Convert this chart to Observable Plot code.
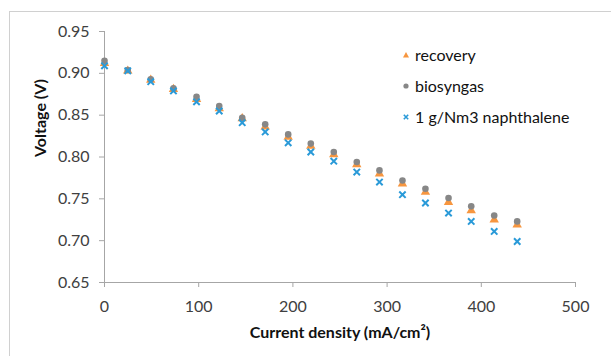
<!DOCTYPE html>
<html>
<head>
<meta charset="utf-8">
<script src="https://cdn.jsdelivr.net/npm/d3@7"></script>
<script src="https://cdn.jsdelivr.net/npm/@observablehq/plot@0.6"></script>
<style>
  html, body { margin: 0; padding: 0; background: #fff; overflow: hidden; }
  #wrap { position: relative; width: 611px; height: 356px; font-family: Lato, "Open Sans", sans-serif; }
  #frame { position: absolute; left: 9px; top: 11px; width: 700px; height: 400px;
           border-left: 1px solid #d0d0d0; border-top: 1px solid #d0d0d0; pointer-events: none; }
  #chart { position: absolute; left: 0; top: 0; }
  #legend { position: absolute; left: 399px; top: 39px; font-size: 16px; color: #111; }
  .row { display: flex; align-items: center; height: 31px; }
  .row svg { width: 14px; height: 12px; margin-right: 2px; }
</style>
</head>
<body>
<div id="wrap">
  <div id="chart"></div>
  <div id="frame"></div>
  <div id="legend"></div>
</div>
<script>
// Data
const currentDensity = [0, 24.7, 49.1, 73.2, 97.7, 121.8, 146.2, 170.6, 195.0, 219.0, 243.4, 267.8, 291.9, 316.3, 340.7, 365.2, 389.3, 413.7, 438.1];
const recovery   = [0.912, 0.903, 0.892, 0.881, 0.869, 0.858, 0.846, 0.836, 0.824, 0.813, 0.803, 0.791, 0.780, 0.768, 0.758, 0.746, 0.736, 0.725, 0.719];
const biosyngas  = [0.915, 0.904, 0.893, 0.882, 0.872, 0.861, 0.847, 0.839, 0.827, 0.816, 0.806, 0.794, 0.784, 0.772, 0.762, 0.751, 0.741, 0.730, 0.723];
const naphthalene= [0.909, 0.903, 0.890, 0.879, 0.866, 0.855, 0.841, 0.830, 0.817, 0.806, 0.795, 0.782, 0.770, 0.755, 0.745, 0.733, 0.723, 0.711, 0.699];

const seriesNames = ["recovery", "biosyngas", "1 g/Nm3 naphthalene"];
const seriesColors = ["#f7963f", "#878787", "#2a9ad8"];
const xTicks = [0, 100, 200, 300, 400, 500];
const yTicks = [0.65, 0.70, 0.75, 0.80, 0.85, 0.90, 0.95];
const xLabel = "Current density (mA/cm²)";
const yLabel = "Voltage (V)";

const mk = (vals) => currentDensity.map((x, i) => ({x, v: vals[i]}));
const axisGray = "#a6a6a6";
const textGray = "#404040";

const chart = Plot.plot({
  width: 611,
  height: 356,
  marginLeft: 104,
  marginRight: 36,
  marginTop: 31,
  marginBottom: 74,
  style: { fontFamily: "Lato, 'Open Sans', sans-serif", fontSize: "16px", background: "transparent", overflow: "visible" },
  x: { domain: [0, 500] },
  y: { domain: [0.65, 0.95] },
  marks: [
    Plot.axisX({ ticks: xTicks, tickSize: 5, tickPadding: 13, stroke: axisGray, fill: textGray, label: null, tickFormat: d3.format("d") }),
    Plot.axisY({ ticks: yTicks, tickSize: 5, tickPadding: 10, stroke: axisGray, fill: textGray, label: null, tickFormat: d3.format(".2f") }),
    Plot.ruleY([0.65], { stroke: axisGray }),
    Plot.ruleX([0], { stroke: axisGray }),
    Plot.dot(mk(recovery), { x: "x", y: "v", symbol: "triangle", fill: seriesColors[0], r: 3.5 }),
    Plot.dot(mk(biosyngas), { x: "x", y: "v", symbol: "circle", fill: seriesColors[1], r: 3.3 }),
    Plot.dot(mk(naphthalene), { x: "x", y: "v", symbol: "times", stroke: seriesColors[2], strokeWidth: 2, r: 3 }),
    Plot.text([xLabel], { frameAnchor: "bottom", dy: 55, fontWeight: "bold", fontSize: 16, fill: "#111" }),
    Plot.text([yLabel], { frameAnchor: "left", dx: -64, rotate: -90, fontWeight: "bold", fontSize: 16, fill: "#111" })
  ]
});
document.getElementById("chart").appendChild(chart);

// Legend
const symbolSvg = [
  `<svg viewBox="0 0 14 12"><path d="M7 3 L10 8.5 L4 8.5 Z" fill="${seriesColors[0]}"/></svg>`,
  `<svg viewBox="0 0 14 12"><circle cx="7" cy="6" r="2.6" fill="${seriesColors[1]}"/></svg>`,
  `<svg viewBox="0 0 14 12"><path d="M4.8 3.8 L9.2 8.2 M9.2 3.8 L4.8 8.2" stroke="${seriesColors[2]}" stroke-width="1.6"/></svg>`
];
const legend = document.getElementById("legend");
seriesNames.forEach((name, i) => {
  const row = document.createElement("div");
  row.className = "row";
  row.innerHTML = symbolSvg[i] + `<span>${name}</span>`;
  legend.appendChild(row);
});
</script>
</body>
</html>
